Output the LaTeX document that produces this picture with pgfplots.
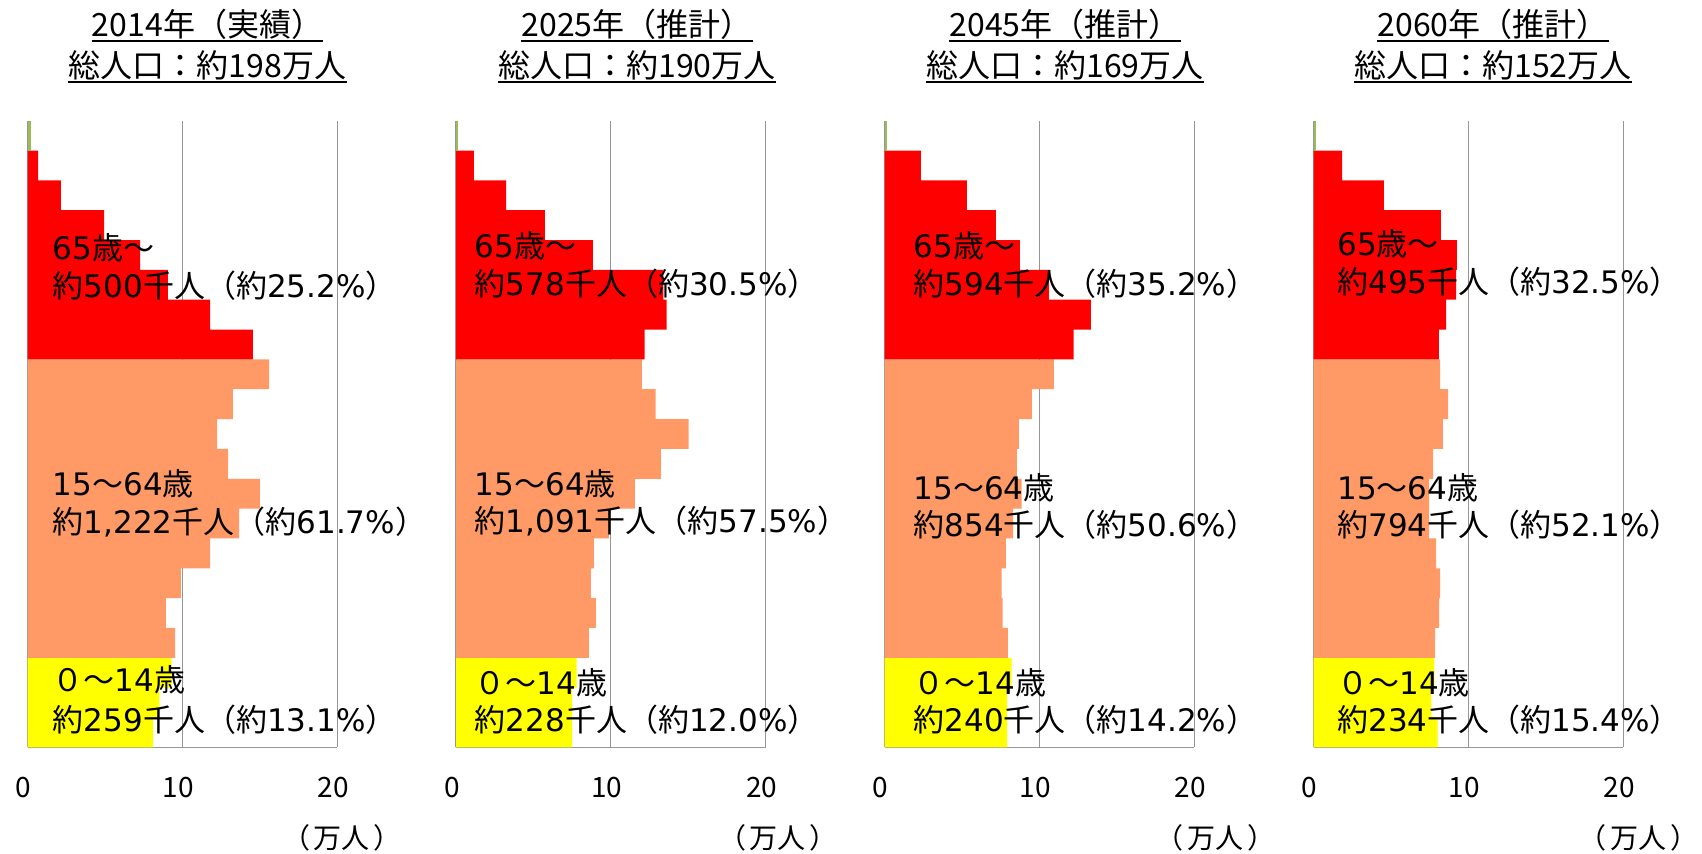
\documentclass[border=0pt]{standalone}
\usepackage{pgfplots}
\pgfplotsset{compat=1.18}
\usepackage{fontspec}
\setmainfont{DejaVu Sans}
\newfontfamily\cjk{Noto Sans CJK JP}
\newfontfamily\cjkp[RawFeature=+palt]{Noto Sans CJK JP}
\newcommand\J[1]{{\cjk #1}}

\definecolor{cred}{HTML}{FF0000}
\definecolor{corange}{HTML}{FF9966}
\definecolor{cyel}{HTML}{FFFF00}
\definecolor{cgreen}{HTML}{9BBB59}
\definecolor{gridgray}{RGB}{150,150,150}

\pgfplotsset{
  pyr/.style={
    anchor=south west, scale only axis,
    width=154.8pt, height=313.3pt,
    xmin=0, xmax=20, ymin=-0.5, ymax=20.5,
    xtick={0,10,20}, xticklabels={0,10,20}, ytick=\empty,
    major tick length=0pt,
    xmajorgrids, grid style={draw=gridgray, line width=0.6pt},
    axis x line*=bottom, axis y line*=left,
    axis line style={draw=gridgray, line width=0.6pt},
    xticklabel style={font=\cjk\fontsize{14}{14}\selectfont, anchor=base,
      inner sep=0pt, yshift=-25pt, xshift=-2pt},
    clip=false,
  },
  bars/.style={xbar, bar width=1, bar shift=0pt, draw=none, fill=#1},
}
\tikzset{lab/.style={anchor=west, inner sep=0pt, font=\fontsize{15.5}{15.5}\selectfont},
  ttl/.style={anchor=base, inner sep=0pt, font=\cjk\fontsize{16}{16}\selectfont}}

\begin{document}
\begin{tikzpicture}
\path[use as bounding box] (0,0) rectangle (851pt,426.5pt);

% 2014
\begin{axis}[pyr, at={(13.85pt,52.85pt)}]
\addplot[bars=cyel] coordinates {(8.1,0) (8.5,1) (9.3,2)};
\addplot[bars=corange] coordinates {(9.52,3) (8.93,4) (9.90,5) (11.78,6) (13.65,7) (15.0,8) (12.94,9) (12.23,10) (13.26,11) (15.59,12)};
\addplot[bars=cred] coordinates {(14.55,13) (11.78,14) (9.06,15) (7.26,16) (4.93,17) (2.15,18) (0.67,19)};
\addplot[bars=cgreen] coordinates {(0.2,20)};
\node[lab] at (axis cs:1.6,16.23) {65\J{歳～}};
\node[lab] at (axis cs:1.6,14.96) {\J{約}500\J{千人（約}25.2\%\J{）}};
\node[lab] at (axis cs:1.6,8.32) {15\J{～}64\J{歳}};
\node[lab] at (axis cs:1.6,7.05) {\J{約}1,222\J{千人（約}61.7\%\J{）}};
\node[lab] at (axis cs:1.6,1.76) {\J{０～}14\J{歳}};
\node[lab] at (axis cs:1.6,0.42) {\J{約}259\J{千人（約}13.1\%\J{）}};
\end{axis}

% 2025
\begin{axis}[pyr, at={(228pt,52.85pt)}]
\addplot[bars=cyel] coordinates {(7.5,0) (7.5,1) (7.8,2)};
\addplot[bars=corange] coordinates {(8.58,3) (9.03,4) (8.71,5) (8.90,6) (9.87,7) (11.55,8) (13.23,9) (15.03,10) (12.9,11) (12.0,12)};
\addplot[bars=cred] coordinates {(12.19,13) (13.61,14) (13.4,15) (8.84,16) (5.74,17) (3.23,18) (1.16,19)};
\addplot[bars=cgreen] coordinates {(0.1,20)};
\node[lab] at (axis cs:1.2,16.30) {65\J{歳～}};
\node[lab] at (axis cs:1.2,15.03) {\J{約}578\J{千人（約}30.5\%\J{）}};
\node[lab] at (axis cs:1.2,8.32) {15\J{～}64\J{歳}};
\node[lab] at (axis cs:1.2,7.08) {\J{約}1,091\J{千人（約}57.5\%\J{）}};
\node[lab] at (axis cs:1.2,1.65) {\J{０～}14\J{歳}};
\node[lab] at (axis cs:1.2,0.42) {\J{約}228\J{千人（約}12.0\%\J{）}};
\end{axis}

% 2045
\begin{axis}[pyr, at={(442.35pt,52.85pt)}]
\addplot[bars=cyel] coordinates {(7.9,0) (7.9,1) (8.2,2)};
\addplot[bars=corange] coordinates {(7.96,3) (7.61,4) (7.55,5) (7.83,6) (8.3,7) (8.84,8) (8.54,9) (8.67,10) (9.5,11) (10.92,12)};
\addplot[bars=cred] coordinates {(12.2,13) (13.31,14) (10.6,15) (8.73,16) (7.18,17) (5.31,18) (2.34,19)};
\addplot[bars=cgreen] coordinates {(0.17,20)};
\node[lab] at (axis cs:1.85,16.30) {65\J{歳～}};
\node[lab] at (axis cs:1.85,15.03) {\J{約}594\J{千人（約}35.2\%\J{）}};
\node[lab] at (axis cs:1.85,8.19) {15\J{～}64\J{歳}};
\node[lab] at (axis cs:1.85,6.95) {\J{約}854\J{千人（約}50.6\%\J{）}};
\node[lab] at (axis cs:1.85,1.65) {\J{０～}14\J{歳}};
\node[lab] at (axis cs:1.85,0.42) {\J{約}240\J{千人（約}14.2\%\J{）}};
\end{axis}

% 2060
\begin{axis}[pyr, at={(656.85pt,52.85pt)}]
\addplot[bars=cyel] coordinates {(8.0,0) (7.6,1) (7.8,2)};
\addplot[bars=corange] coordinates {(7.84,3) (8.1,4) (8.16,5) (7.9,6) (7.45,7) (7.45,8) (7.71,9) (8.35,10) (8.68,11) (8.16,12)};
\addplot[bars=cred] coordinates {(8.09,13) (8.55,14) (9.2,15) (9.24,16) (8.22,17) (4.54,18) (1.83,19)};
\addplot[bars=cgreen] coordinates {(0.15,20)};
\node[lab] at (axis cs:1.5,16.37) {65\J{歳～}};
\node[lab] at (axis cs:1.5,15.1) {\J{約}495\J{千人（約}32.5\%\J{）}};
\node[lab] at (axis cs:1.5,8.19) {15\J{～}64\J{歳}};
\node[lab] at (axis cs:1.5,6.95) {\J{約}794\J{千人（約}52.1\%\J{）}};
\node[lab] at (axis cs:1.5,1.65) {\J{０～}14\J{歳}};
\node[lab] at (axis cs:1.5,0.42) {\J{約}234\J{千人（約}15.4\%\J{）}};
\end{axis}

% titles
\foreach \cx/\ya/\yb [count=\i] in {103.75/2014年（実績）/総人口：約198万人,
    318.5/2025年（推計）/総人口：約190万人,
    532.5/2045年（推計）/総人口：約169万人,
    746.5/2060年（推計）/総人口：約152万人}{
  \node[ttl] (a\i) at (\cx pt,408pt) {\ya};
  \draw[line width=1.1pt] ([yshift=-2pt]a\i.base west) -- ([yshift=-2pt]a\i.base east);
  \node[ttl] (b\i) at (\cx pt,387.5pt) {\yb};
  \draw[line width=1.1pt] ([yshift=-2pt]b\i.base west) -- ([yshift=-2pt]b\i.base east);
}

% units
\foreach \ux in {171,389,607.5,819}
  \node[inner sep=0pt, font=\cjkp\fontsize{14}{14}\selectfont] at (\ux pt,7.5pt) {（\kern2.5pt 万人\kern2.5pt ）};
\end{tikzpicture}
\end{document}
